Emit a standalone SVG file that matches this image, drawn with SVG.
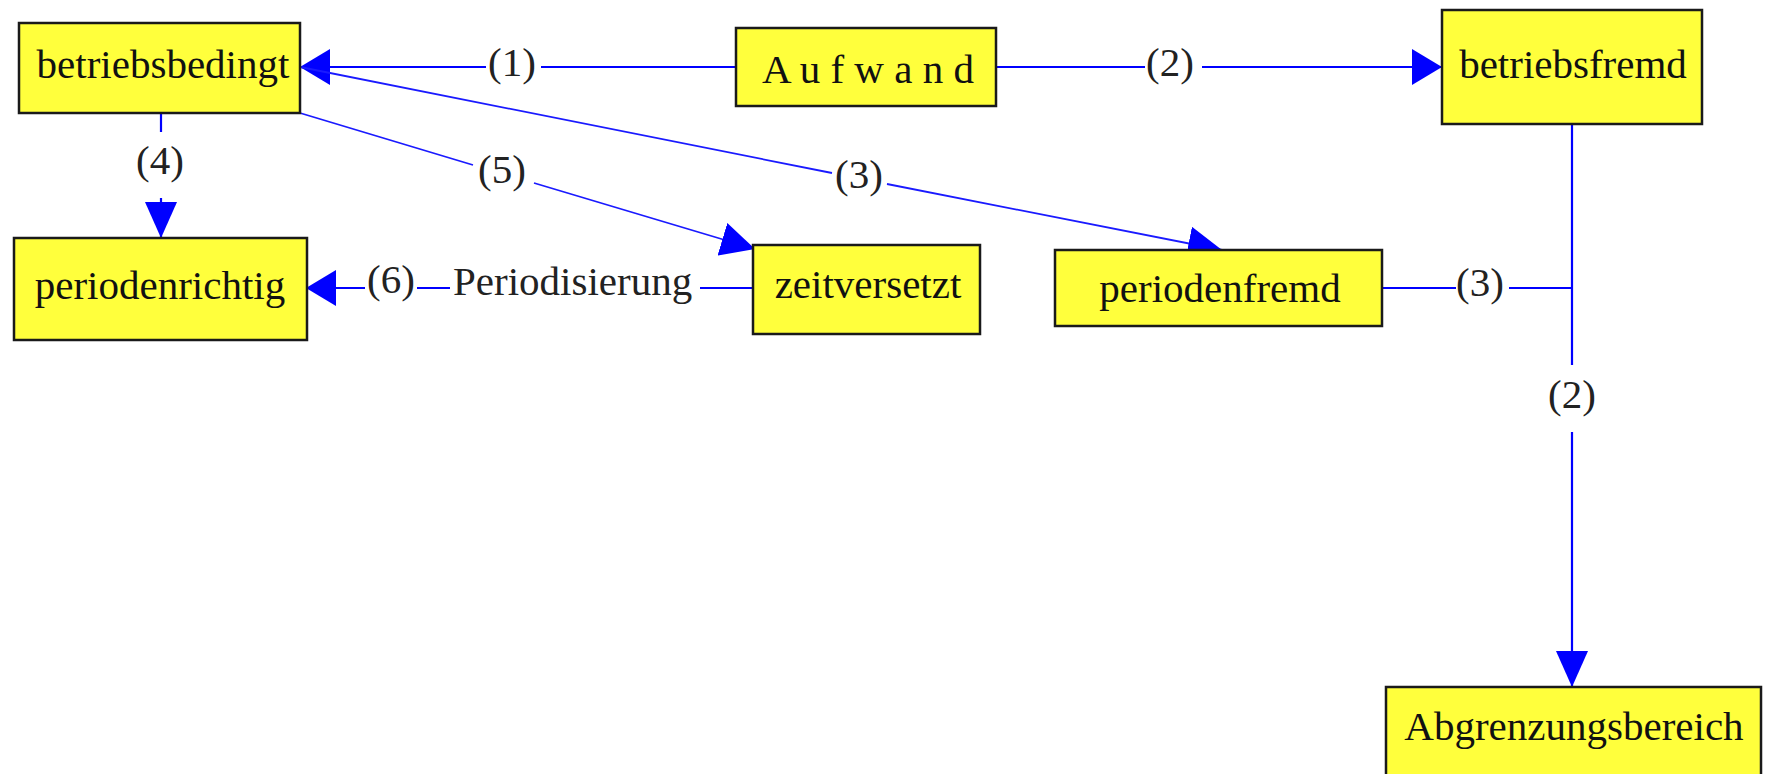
<svg xmlns="http://www.w3.org/2000/svg" width="1766" height="774" viewBox="0 0 1766 774">
<style>
.box{fill:#ffff3c;stroke:#1a1a1a;stroke-width:2.5}
.t{font-family:"Liberation Serif","Times New Roman",serif;font-size:41px;fill:#111;text-anchor:middle}
.lbl{font-family:"Liberation Serif","Times New Roman",serif;font-size:41px;fill:#222;text-anchor:middle}
.e{fill:none;stroke:#0000ff;stroke-width:2.2}
.d{fill:none;stroke:#1a1aff;stroke-width:1.8}
</style>
<defs>
<marker id="ah" markerUnits="userSpaceOnUse" viewBox="0 0 30 36" refX="30" refY="18" markerWidth="30" markerHeight="36" orient="auto"><path d="M0,0 L30,18 L0,36 z" fill="#0000ff"/></marker>
<marker id="av" markerUnits="userSpaceOnUse" viewBox="0 0 36 32" refX="36" refY="16" markerWidth="36" markerHeight="32" orient="auto"><path d="M0,0 L36,16 L0,32 z" fill="#0000ff"/></marker>
<marker id="ad" markerUnits="userSpaceOnUse" viewBox="0 0 34 34" refX="34" refY="17" markerWidth="34" markerHeight="34" orient="auto"><path d="M0,0 L34,17 L0,34 z" fill="#0000ff"/></marker>
</defs>
<rect width="1766" height="774" fill="#ffffff"/>
<g id="connectors">
<path class="e" d="M736,67 H541 M486,67 H300" marker-end="url(#ah)"/>
<path class="e" d="M996,67 H1145 M1202,67 H1442" marker-end="url(#ah)"/>
<path class="e" d="M161,113 V132 M161,198 V238" marker-end="url(#av)"/>
<path class="d" d="M300,113 L473,165 M534,183 L755,249" marker-end="url(#ad)"/>
<path class="d" d="M300,67 L832,173 M887,184 L1222,250" marker-end="url(#ad)"/>
<path class="e" d="M753,288 H700 M450,288 H417 M365,288 H306" marker-end="url(#ah)"/>
<path class="e" d="M1382,288 H1456 M1509,288 H1572"/>
<path class="e" d="M1572,124 V365 M1572,432 V687" marker-end="url(#av)"/>
<text class="lbl" x="512" y="76">(1)</text>
<text class="lbl" x="1170" y="76">(2)</text>
<text class="lbl" x="160" y="174">(4)</text>
<text class="lbl" x="502" y="183">(5)</text>
<text class="lbl" x="859" y="188">(3)</text>
<text class="lbl" x="391" y="293">(6)</text>
<text class="lbl" x="453" y="295" style="text-anchor:start">Periodisierung</text>
<text class="lbl" x="1480" y="296">(3)</text>
<text class="lbl" x="1572" y="408">(2)</text>
</g>
<g id="betriebsbedingt">
<rect class="box" x="19" y="23" width="281" height="90"/>
<text class="t" x="163" y="78">betriebsbedingt</text>
</g>
<g id="aufwand">
<rect class="box" x="736" y="28" width="260" height="78"/>
<text class="t" x="868" y="83">A u f w a n d</text>
</g>
<g id="betriebsfremd">
<rect class="box" x="1442" y="10" width="260" height="114"/>
<text class="t" x="1573" y="78">betriebsfremd</text>
</g>
<g id="periodenrichtig">
<rect class="box" x="14" y="238" width="293" height="102"/>
<text class="t" x="160" y="299">periodenrichtig</text>
</g>
<g id="zeitversetzt">
<rect class="box" x="753" y="245" width="227" height="89"/>
<text class="t" x="868" y="298">zeitversetzt</text>
</g>
<g id="periodenfremd">
<rect class="box" x="1055" y="250" width="327" height="76"/>
<text class="t" x="1220" y="302">periodenfremd</text>
</g>
<g id="abgrenzungsbereich">
<rect class="box" x="1386" y="687" width="375" height="110"/>
<text class="t" x="1574" y="740">Abgrenzungsbereich</text>
</g>
</svg>
